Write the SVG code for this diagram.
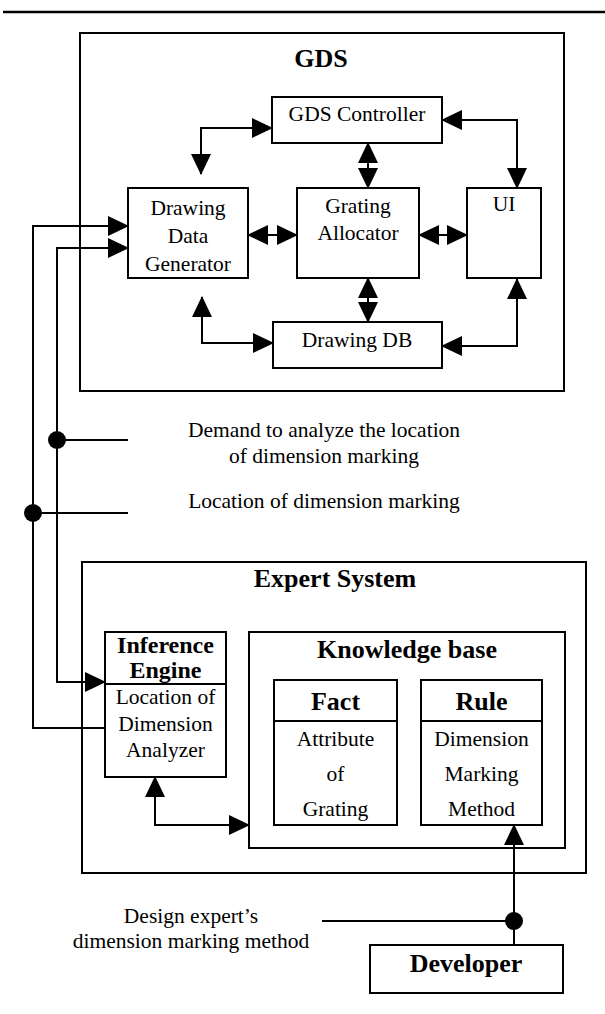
<svg xmlns="http://www.w3.org/2000/svg" width="605" height="1014" viewBox="0 0 605 1014">
<style>
.box{fill:none;stroke:#000;stroke-width:2}
.ln{fill:none;stroke:#000;stroke-width:2}
.t{font-family:"Liberation Serif","Times New Roman",serif;font-size:21.5px;text-anchor:middle;fill:#000}
.b{font-family:"Liberation Serif","Times New Roman",serif;font-size:26px;font-weight:bold;text-anchor:middle;fill:#000}
.bs{font-family:"Liberation Serif","Times New Roman",serif;font-size:24px;font-weight:bold;text-anchor:middle;fill:#000}
.dot{fill:#000}
</style>
<defs>
<marker id="ah" markerUnits="userSpaceOnUse" markerWidth="21" markerHeight="20" viewBox="0 0 21 20" refX="20" refY="10" orient="auto-start-reverse">
<path d="M0,0 L21,10 L0,20 z" fill="#000"/>
</marker>
</defs>
<rect width="605" height="1014" fill="#fff"/>
<line x1="3" y1="12" x2="605" y2="12" stroke="#000" stroke-width="2.5"/>

<g id="gds">
<rect class="box" x="80" y="33" width="484" height="358"/>
<text class="b" x="321" y="67">GDS</text>
</g>
<g id="gds-controller">
<rect class="box" x="272" y="97" width="170" height="46"/>
<text class="t" x="357" y="121">GDS Controller</text>
</g>
<g id="drawing-data-generator">
<rect class="box" x="128" y="188" width="120" height="90"/>
<text class="t" x="188" y="215">Drawing</text>
<text class="t" x="188" y="243">Data</text>
<text class="t" x="188" y="271">Generator</text>
</g>
<g id="grating-allocator">
<rect class="box" x="297" y="188" width="122" height="90"/>
<text class="t" x="358" y="213">Grating</text>
<text class="t" x="358" y="240">Allocator</text>
</g>
<g id="ui">
<rect class="box" x="467" y="188" width="74" height="90"/>
<text class="t" x="504" y="211">UI</text>
</g>
<g id="drawing-db">
<rect class="box" x="273" y="322" width="169" height="46"/>
<text class="t" x="357" y="347">Drawing DB</text>
</g>

<g id="label-demand">
<text class="t" x="324" y="437">Demand to analyze the location</text>
<text class="t" x="324" y="463">of dimension marking</text>
</g>
<g id="label-location">
<text class="t" x="324" y="508">Location of dimension marking</text>
</g>

<g id="expert-system">
<rect class="box" x="82" y="562" width="504" height="311"/>
<text class="b" x="335" y="587">Expert System</text>
</g>
<g id="inference-engine">
<rect class="box" x="105" y="632" width="121" height="145"/>
<line class="ln" x1="105" y1="684" x2="226" y2="684"/>
<text class="bs" x="165.5" y="653">Inference</text>
<text class="bs" x="165.5" y="678">Engine</text>
<text class="t" x="165.5" y="704">Location of</text>
<text class="t" x="165.5" y="731">Dimension</text>
<text class="t" x="165.5" y="757">Analyzer</text>
</g>
<g id="knowledge-base">
<rect class="box" x="249" y="632" width="316" height="216"/>
<text class="b" x="407" y="658">Knowledge base</text>
</g>
<g id="fact">
<rect class="box" x="274" y="680" width="123" height="145"/>
<line class="ln" x1="274" y1="721" x2="397" y2="721"/>
<text class="b" x="335.5" y="710">Fact</text>
<text class="t" x="335.5" y="746">Attribute</text>
<text class="t" x="335.5" y="781">of</text>
<text class="t" x="335.5" y="816">Grating</text>
</g>
<g id="rule">
<rect class="box" x="421" y="680" width="121" height="145"/>
<line class="ln" x1="421" y1="721" x2="542" y2="721"/>
<text class="b" x="481.5" y="710">Rule</text>
<text class="t" x="481.5" y="746">Dimension</text>
<text class="t" x="481.5" y="781">Marking</text>
<text class="t" x="481.5" y="816">Method</text>
</g>
<g id="label-design">
<text class="t" x="191" y="923">Design expert’s</text>
<text class="t" x="191" y="948">dimension marking method</text>
</g>
<g id="developer">
<rect class="box" x="370" y="945" width="193" height="48"/>
<text class="b" x="466" y="972">Developer</text>
</g>

<g id="connectors">
<path class="ln" d="M272,128 H201 V174" marker-start="url(#ah)" marker-end="url(#ah)"/>
<path class="ln" d="M442,120 H517 V188" marker-start="url(#ah)" marker-end="url(#ah)"/>
<path class="ln" d="M368,143 V188" marker-start="url(#ah)" marker-end="url(#ah)"/>
<path class="ln" d="M248,235 H297" marker-start="url(#ah)" marker-end="url(#ah)"/>
<path class="ln" d="M419,235 H467" marker-start="url(#ah)" marker-end="url(#ah)"/>
<path class="ln" d="M368,278 V322" marker-start="url(#ah)" marker-end="url(#ah)"/>
<path class="ln" d="M202,297 V343 H273" marker-start="url(#ah)" marker-end="url(#ah)"/>
<path class="ln" d="M517,279 V346 H442" marker-start="url(#ah)" marker-end="url(#ah)"/>
<path class="ln" d="M128,226 H33 V728 H105" marker-start="url(#ah)"/>
<path class="ln" d="M128,248 H57 V682 H105" marker-start="url(#ah)" marker-end="url(#ah)"/>
<line class="ln" x1="57" y1="440" x2="128" y2="440"/>
<circle class="dot" cx="57" cy="440" r="9"/>
<line class="ln" x1="33" y1="513" x2="128" y2="513"/>
<circle class="dot" cx="33" cy="513" r="9"/>
<path class="ln" d="M155,777 V825 H249" marker-start="url(#ah)" marker-end="url(#ah)"/>
<path class="ln" d="M514,945 V825" marker-end="url(#ah)"/>
<line class="ln" x1="322" y1="921" x2="514" y2="921"/>
<circle class="dot" cx="514" cy="921" r="9"/>
</g>
</svg>
